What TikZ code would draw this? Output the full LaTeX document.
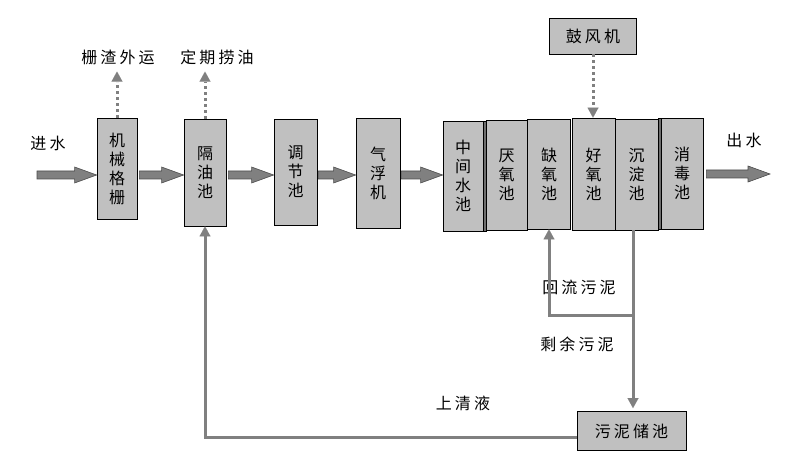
\documentclass[tikz,border=0pt]{standalone}
\usepackage{fontspec}
\usepackage{tikz}
\usetikzlibrary{arrows.meta,calc}
\newfontfamily\cjk{Noto Sans CJK SC}
\newfontfamily\cjkwide[LetterSpace=19]{Noto Sans CJK SC}
\definecolor{poolgray}{HTML}{C0C0C0}
\definecolor{linegray}{HTML}{808080}
\definecolor{stripgray}{HTML}{6E6E6E}
\tikzstyle{pool} = [rectangle, draw=black, fill=poolgray, line width=0.8pt, inner sep=0pt,
align=center, font=\cjk\fontsize{16}{19}\selectfont]
\tikzstyle{strip} = [rectangle, draw=black, fill=stripgray, line width=0.5pt, minimum width=3pt, inner sep=0pt]
\tikzstyle{note} = [inner sep=0pt, font=\cjkwide\fontsize{16}{18}\selectfont]
\tikzstyle{fat} = [draw=black!70, fill=linegray, line width=0.6pt, to path={let \p1=(\tikztostart), \p2=(\tikztotarget) in
(\x1,\y1+4pt) -- (\x2-22pt,\y1+4pt) -- (\x2-22pt,\y1+8pt) -- (\x2,\y1) -- (\x2-22pt,\y1-8pt) -- (\x2-22pt,\y1-4pt) -- (\x1,\y1-4pt) -- cycle}]
\tikzstyle{ret} = [draw=linegray, line width=3pt, -{Triangle[length=10pt,width=11pt,line width=0.01pt]}]
\tikzstyle{air} = [draw=linegray, line width=3pt, dash pattern=on 3pt off 3pt, -{Triangle[length=10pt,width=11pt,line width=0.01pt]}]

\begin{document}
\begin{tikzpicture}[x=1pt,y=-1pt]
        \useasboundingbox (0,0) rectangle (787,462);

        % treatment line
        \draw (117,168.5) node[pool, minimum width=40pt, minimum height=101pt] (jx) {机\\械\\格\\栅}
        (205,172.5) node[pool, minimum width=42pt, minimum height=107pt] (gy) {隔\\油\\池}
        (295.5,172) node[pool, minimum width=43pt, minimum height=106pt] (tj) {调\\节\\池}
        (378,173) node[pool, minimum width=44pt, minimum height=110pt] (qf) {气\\浮\\机};

        \draw (463,176) node[pool, minimum width=40pt, minimum height=110pt] (zj) {中\\间\\水\\池}
        (506.5,175) node[pool, minimum width=41pt, minimum height=110pt] (yy) {厌\\氧\\池}
        (549,174) node[pool, minimum width=43pt, minimum height=110pt] (qy) {缺\\氧\\池}
        (593.5,174) node[pool, minimum width=43pt, minimum height=112pt] (hy) {好\\氧\\池}
        (636.5,174.5) node[pool, minimum width=43pt, minimum height=111pt] (cd) {沉\\淀\\池}
        (682,173.5) node[pool, minimum width=42pt, minimum height=111pt] (xd) {消\\毒\\池};
        \draw (484.5,176) node[strip, minimum height=110pt] (s1) {};
        \draw (659.5,174) node[strip, minimum height=111pt] (s2) {};

        \draw (593,36) node[pool, font=\cjkwide\fontsize{16}{19}\selectfont, minimum width=87pt, minimum height=36pt] (gf) {鼓风机};
        \draw (631.5,431) node[pool, font=\cjkwide\fontsize{16}{19}\selectfont, minimum width=109pt, minimum height=39pt] (wn) {污泥储池};

        % labels
        \draw (48,143) node[note] (jin) {进水};
        \draw (744,140) node[note] (chu) {出水};
        \draw (118,57) node[note] (zz) {栅渣外运};
        \draw (217,57) node[note] (lyou) {定期捞油};
        \draw (579,287) node[note] (hl) {回流污泥};
        \draw (577,344) node[note] (sy) {剩余污泥};
        \draw (463,403) node[note] (sq) {上清液};

        % water flow
        \coordinate (src) at (37,175);
        \coordinate (sink) at (770,174);
        \draw[fat] (src) to (jx.west |- src);
        \draw[fat] ([xshift=2pt]jx.east |- src) to (gy.west |- src);
        \draw[fat] ([xshift=2pt]gy.east |- src) to (tj.west |- src);
        \draw[fat] ([xshift=1pt]tj.east |- src) to (qf.west |- src);
        \draw[fat] ([xshift=1pt]qf.east |- src) to (zj.west |- src);
        \draw[fat] ([xshift=3pt]xd.east |- sink) to (sink);

        % dotted lines
        \draw[air, shorten >=7pt] (jx.north) -- (zz.south -| jx.north);
        \draw[air, shorten >=7pt] (gy.north) -- (lyou.south -| gy.north);
        \draw[air] (gf.south) -- (hy.north -| gf.south);

        % sludge
        \coordinate (split) at (633,316);
        \draw[ret, shorten >=3pt] (cd.south -| split) -- (wn.north -| split);
        \draw[ret] (split) -| (qy.south);
        \draw[ret] ([yshift=-6pt]wn.west) -| (gy.south);
    \end{tikzpicture}
\end{document}
